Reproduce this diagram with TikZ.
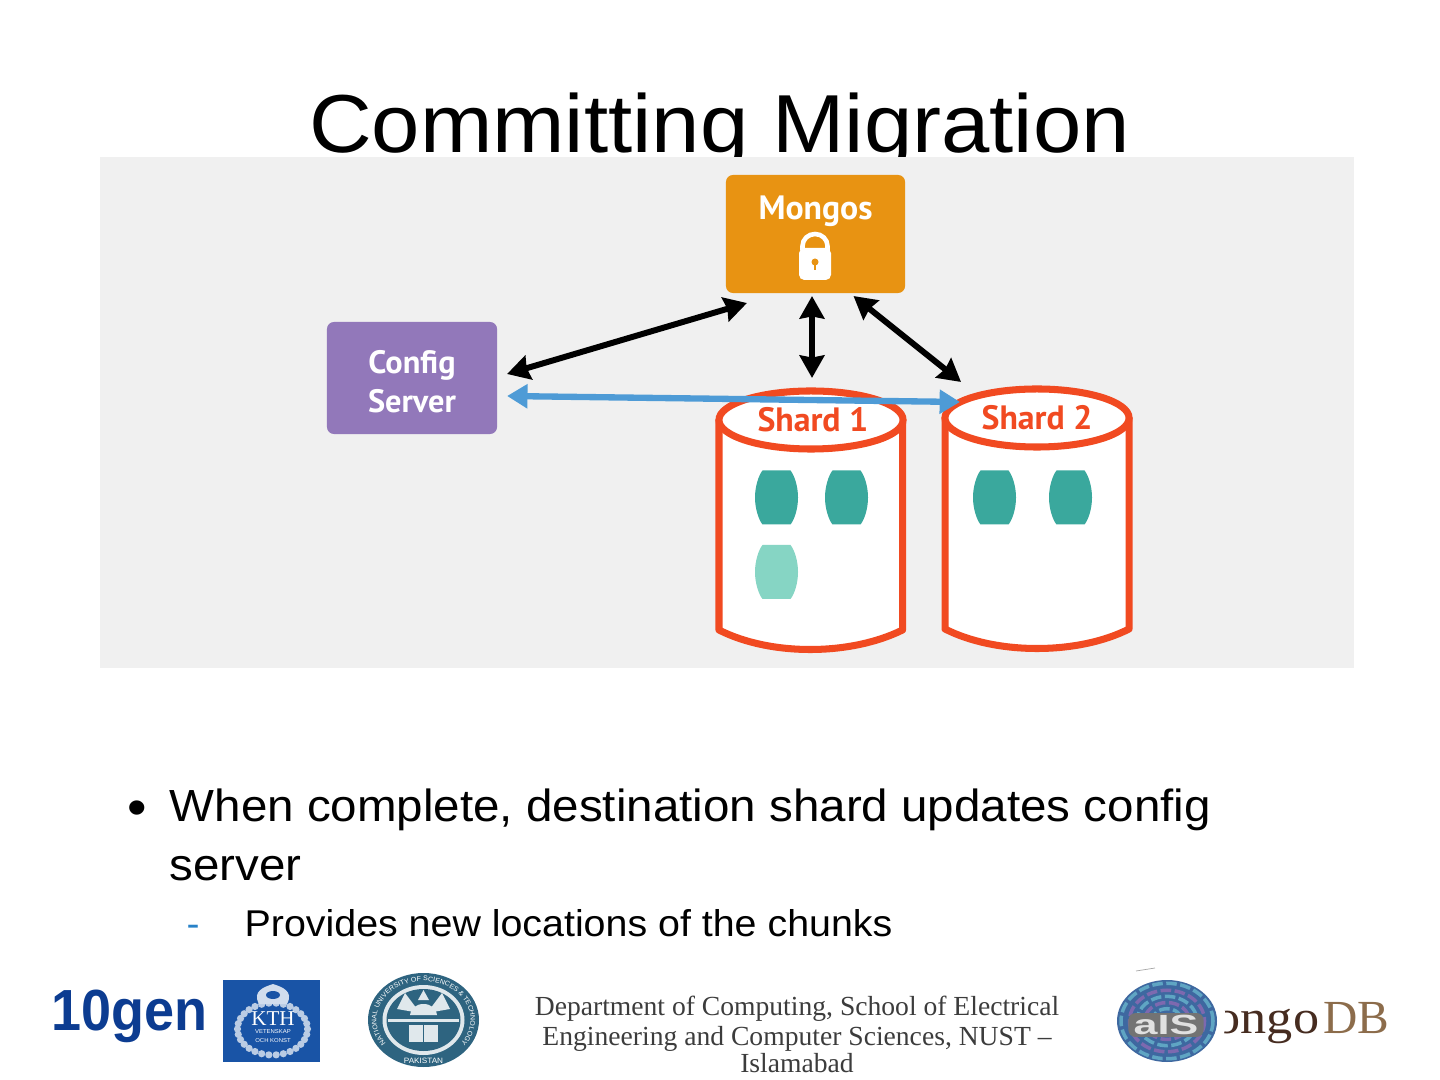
\documentclass[tikz,border=0pt]{standalone}
\usepackage{fontspec}
\setmainfont[FakeStretch=1.056]{Liberation Sans}
\newfontfamily\labelfont{PT Sans}
\newfontfamily\logofont{Liberation Serif}
\newfontfamily\mongofont[FakeStretch=1.1]{Liberation Serif}
\newfontfamily\genfont[FakeStretch=.93]{Liberation Sans}
\newfontfamily\aisfont[FakeStretch=1.55]{Liberation Sans}
\usetikzlibrary{arrows.meta,calc,shapes.geometric,decorations.text}
\definecolor{PanelGrey}{RGB}{240,240,240}
\definecolor{MongosOrange}{RGB}{232,147,18}
\definecolor{ConfigPurple}{RGB}{146,120,186}
\definecolor{ShardRed}{RGB}{241,74,33}
\definecolor{ChunkTeal}{RGB}{58,168,157}
\definecolor{ChunkLight}{RGB}{134,213,196}
\definecolor{UpdateBlue}{RGB}{78,155,214}
\definecolor{DashBlue}{RGB}{40,130,200}
\definecolor{GenBlue}{RGB}{12,60,145}
\definecolor{KthBlue}{RGB}{25,84,166}
\definecolor{SealBlue}{RGB}{46,100,128}
\definecolor{AisBlue}{RGB}{62,104,160}
\definecolor{AisPurple}{RGB}{125,105,175}
\definecolor{AisCyan}{RGB}{95,165,195}
\definecolor{MongoBrown}{RGB}{70,44,32}
\definecolor{MongoTan}{RGB}{140,108,75}
\definecolor{FootGrey}{RGB}{60,60,60}
\tikzset{
  labelbox/.style={rounded corners=2pt, outer sep=0pt, inner sep=0pt, text=white, align=center,
    font=\labelfont\bfseries\fontsize{9.6}{11.1}\selectfont},
  shardtop/.style={ellipse, draw=ShardRed, fill=white, line width=2pt, outer sep=0pt, inner sep=0pt,
    minimum width=1.84cm, minimum height=0.58cm, text=ShardRed,
    font=\labelfont\bfseries\fontsize{9.6}{11.1}\selectfont},
  shardbody/.style={draw=ShardRed, fill=white, line width=2pt, line join=round},
  chatarrow/.style={line width=1.7pt, arrows={Stealth[length=6.4pt,width=7pt,inset=0.6pt]-Stealth[length=6.4pt,width=7pt,inset=0.6pt]}},
  footline/.style={anchor=base, inner sep=0pt, text=FootGrey, font=\logofont\fontsize{7.85}{8.6}\selectfont},
  chunk/.pic={
    \path[pic actions] (-14,-27) -- (14,-27) .. controls (18,-22) and (21.5,-11) .. (21.5,0)
      .. controls (21.5,11) and (18,22) .. (14,27) -- (-14,27)
      .. controls (-18,22) and (-21.5,11) .. (-21.5,0) .. controls (-21.5,-11) and (-18,-22) .. (-14,-27) -- cycle;
  }
}
\begin{document}
\begin{tikzpicture}[x=0.01cm, y=-0.01cm]
  \useasboundingbox (0,0) rectangle (1440,1080);
  % title sits behind the panel
  \node[anchor=base, font=\fontsize{23.4}{28}\selectfont] (title) at (719.5,153) {Committing Migration};
  \fill[PanelGrey] (100,157) rectangle (1354,668);

  \node[labelbox, fill=MongosOrange, minimum width=1.79cm, minimum height=1.18cm] (mongos) at (815.5,234) {};
  \node[labelbox, anchor=base] (mongoslabel) at (815.5,219.5) {Mongos};
  \draw[white, line width=1.3pt] (802.5,250) -- (802.5,246) arc[start angle=180, end angle=360, x radius=12.5, y radius=12] -- (827.5,250);
  \fill[white, rounded corners=1.5pt] (799,248) rectangle (831,280);
  \fill[MongosOrange] (815,262) circle[radius=3.5];
  \fill[MongosOrange] (813.7,262) rectangle (816.3,270);

  \node[labelbox, fill=ConfigPurple, minimum width=1.7cm, minimum height=1.12cm,
    font=\labelfont\bfseries\fontsize{9.2}{11.1}\selectfont] (config) at (412,378) {\rule{0pt}{8.4pt}Config\\Server};

  % shard 1
  \path[shardbody] (719,420) -- (719,630) .. controls (770,656) and (850,656) .. (902.5,630) -- (902.5,420) -- cycle;
  \node[shardtop] (shard1) at (811,420) {\kern1.1pt Shard 1};
  \pic[fill=ChunkTeal] at (776.5,497.5) {chunk};
  \pic[fill=ChunkTeal] at (846.5,497.5) {chunk};
  \pic[fill=ChunkLight] at (776.5,572) {chunk};

  % shard 2
  \path[shardbody] (945,418) -- (945,629) .. controls (996,655) and (1078,655) .. (1129,629) -- (1129,418) -- cycle;
  \node[shardtop] (shard2) at (1037,418) {Shard 2};
  \pic[fill=ChunkTeal] at (994.5,497.5) {chunk};
  \pic[fill=ChunkTeal] at (1070.5,497.5) {chunk};

  \draw[chatarrow] ([shift={(10,-4)}]config.east) -- ([shift={(21,10)}]mongos.south west);
  \draw[chatarrow] ([shift={(-3.5,3)}]mongos.south) -- ([shift={(1,-13)}]shard1.north);
  \draw[chatarrow] ([shift={(38,3)}]mongos.south) -- ([shift={(-76,-7)}]shard2.north);
  \draw[UpdateBlue, line width=1.8pt, arrows={Stealth[length=5.8pt,width=6.6pt,inset=0pt]-Stealth[length=5.8pt,width=6.6pt,inset=0pt]}]
    ([shift={(10,18)}]config.east) -- ([shift={(-77,13)}]shard2.north);

  % bullets
  \node[anchor=base, font=\fontsize{15}{18}\selectfont] (bullet) at (137,825) {•};
  \node[anchor=north west, inner sep=0pt, align=left, font=\fontsize{12.8}{16.8}\selectfont] (body) at (169,788) {When complete, destination shard updates config\\server};
  \node[anchor=base, text=DashBlue, font=\fontsize{10.5}{12}\selectfont] (dash) at (193,936) {-};
  \node[anchor=base west, inner sep=0pt, font=\fontsize{10.6}{12}\selectfont] (sub) at (244,936) {Provides new locations of the chunks};

  % footer logos
  \node[anchor=base west, inner sep=0pt, text=GenBlue, font=\genfont\bfseries\fontsize{16.5}{18}\selectfont] (gen) at (51,1030) {10gen};

  \fill[KthBlue] (223,980) rectangle (320,1062);
  \foreach \a in {0,12,...,348}
    \fill[white!70!KthBlue] ($(272.5,1029)+(\a:35 and 26)$) circle[radius=3.6];
  \fill[white!80!KthBlue] (259,1004) .. controls (252,991) and (264,987) .. (273,984) .. controls (282,987) and (294,991) .. (287,1004) -- cycle;
  \fill[KthBlue] (273,995) ellipse[x radius=7, y radius=4];
  \node[text=white, inner sep=0pt, font=\logofont\fontsize{6}{6}\selectfont] (kth) at (273,1019) {KTH};
  \node[text=white, inner sep=0pt, align=center, font=\fontsize{1.6}{2.6}\selectfont] (kthmotto) at (273,1036) {VETENSKAP\\OCH KONST};

  \fill[SealBlue] (423.5,1020) ellipse[x radius=55.5, y radius=47];
  \path[decorate, decoration={text along path, text color=white, text align=center,
      text={|\fontsize{1.9}{3}\selectfont|NATIONAL UNIVERSITY OF SCIENCES {\&} TECHNOLOGY}}]
    (423.5,1020) ++(140:47 and 39) arc[start angle=140, end angle=400, x radius=47, y radius=39];
  \node[text=white, inner sep=0pt, font=\fontsize{2.2}{3}\selectfont] (pakistan) at (423.5,1061) {PAKISTAN};
  \fill[white!85!SealBlue] (423.5,1020) ellipse[x radius=41, y radius=35];
  \fill[SealBlue] (423.5,1020) ellipse[x radius=37, y radius=31];
  \fill[white!85!SealBlue] (397,1009) -- (420,1013) -- (405,993) -- cycle;
  \fill[white!85!SealBlue] (450,1009) -- (427,1013) -- (442,993) -- cycle;
  \fill[white!85!SealBlue] (418,1000) -- (423.5,990) -- (429,1000) -- cycle;
  \fill[white!85!SealBlue] (410,1015) arc[start angle=180, end angle=360, x radius=13.5, y radius=11] -- cycle;
  \fill[white!85!SealBlue] (388,1019) rectangle (459,1022);
  \fill[white!85!SealBlue] (409,1025) rectangle (438,1042);
  \draw[SealBlue, line width=0.3pt] (423.5,1025) -- (423.5,1042);

  \node[footline] (footline1) at (797,1015) {Department of Computing, School of Electrical};
  \node[footline] (footline2) at (797,1045) {Engineering and Computer Sciences, NUST –};
  \node[footline] (footline3) at (797,1072) {Islamabad};

  \node[anchor=base east, inner sep=0pt, font=\logofont\fontsize{13.5}{15}\selectfont] (mongodb) at (1390,1033) {\textcolor{MongoBrown}{\mongofont ongo}\kern1.2pt\textcolor{MongoTan}{DB}};

  \fill[white] (1167,1021) ellipse[x radius=59, y radius=48];
  \draw[black!35, line width=0.2pt] (1136,971) -- (1155,968);
  \fill[AisBlue] (1167,1021) ellipse[x radius=50, y radius=41];
  \foreach \r/\c in {0.3/AisCyan,0.45/AisPurple,0.6/AisCyan,0.75/AisPurple,0.92/AisCyan}
    \draw[\c, line width=1pt, dash pattern=on 3pt off 1pt] (1167,1021) ellipse[x radius=50*\r, y radius=41*\r];
  \node[rounded corners=2pt, fill=black!55, text=black!12, inner xsep=1.5pt, inner ysep=0.6pt, font=\aisfont\bfseries\fontsize{7.9}{8}\selectfont] (ais) at (1166,1025) {aIS};
\end{tikzpicture}
\end{document}
